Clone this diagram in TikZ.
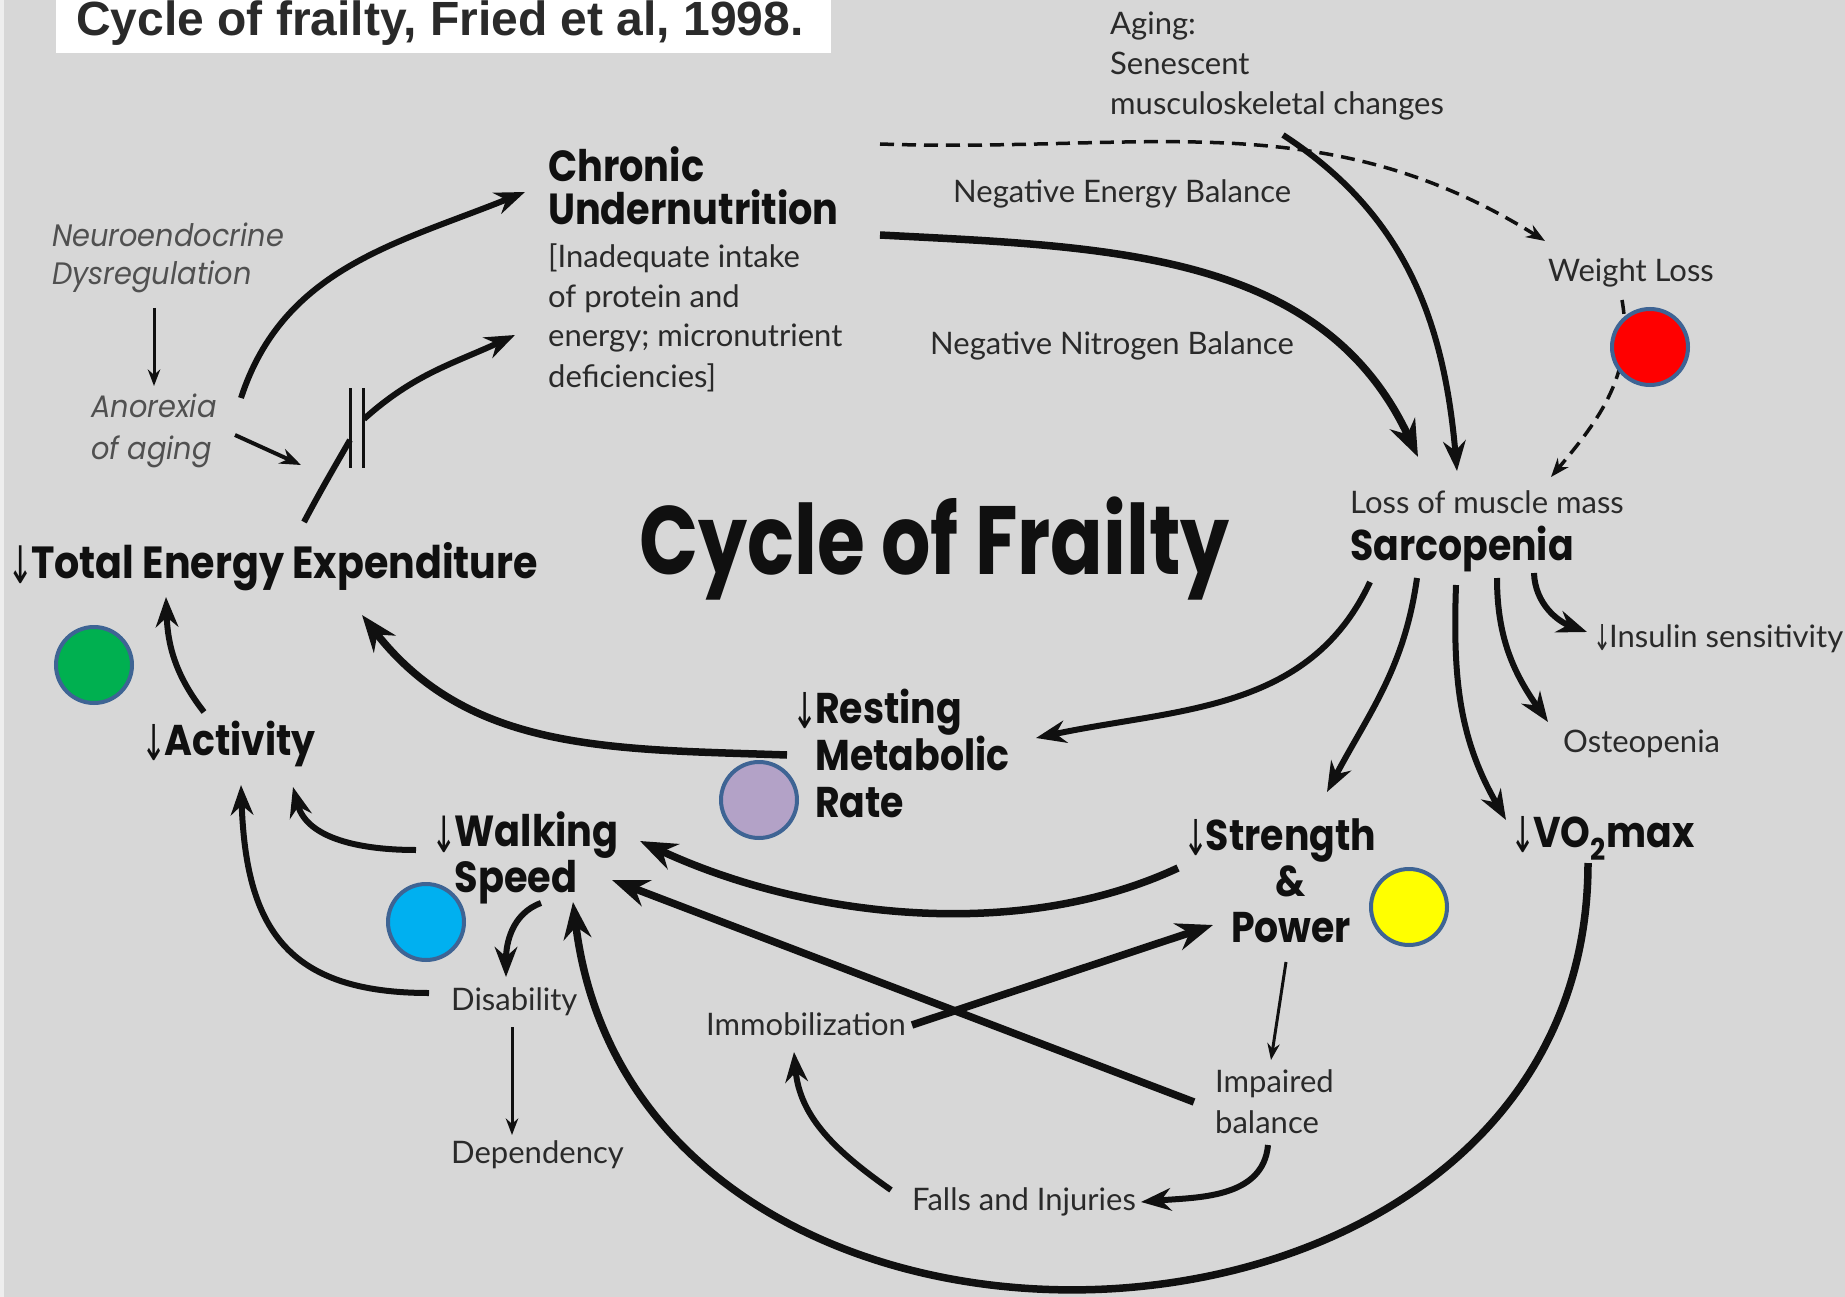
\documentclass[tikz,border=0pt]{standalone}
\usepackage{fontspec}
\usepackage{xcolor}
\usepackage{tikz}
\usetikzlibrary{arrows.meta}

\newfontfamily\heavyfont[FakeStretch=0.88]{Poppins}
\newfontfamily\hugefont[FakeStretch=0.8]{Poppins}
\newfontfamily\plainfont{Lato}
\newfontfamily\obliquefont[FakeStretch=0.93]{Poppins}
\newfontfamily\headerfont{Liberation Sans}
\newfontfamily\arrowfont{DejaVu Sans}
\newcommand{\dn}{\makebox[0.42em][l]{\hspace{-0.1em}\raisebox{-0.12em}{\scalebox{0.7}[1.15]{\arrowfont\mdseries\symbol{"2193}}}}}

\definecolor{panel}{HTML}{D7D7D7}
\definecolor{edgestrip}{HTML}{EEEEEE}
\definecolor{ink}{HTML}{101010}
\definecolor{note}{HTML}{2A2A2A}
\definecolor{slant}{HTML}{505050}
\definecolor{rim}{HTML}{3E6494}
\definecolor{redfill}{HTML}{FF0000}
\definecolor{greenfill}{HTML}{00B050}
\definecolor{lilacfill}{HTML}{B3A2C7}
\definecolor{bluefill}{HTML}{00B0F0}
\definecolor{yellowfill}{HTML}{FFFF00}

\tikzset{
  heavylabel/.style={text=ink, font=\heavyfont\bfseries\fontsize{43}{46}\selectfont},
  notelabel/.style={text=note, font=\plainfont\fontsize{31}{40}\selectfont},
  slantlabel/.style={text=slant, font=\obliquefont\itshape\fontsize{31}{38}\selectfont},
  dot/.style={circle, draw=rim, line width=4pt, minimum size=76pt, inner sep=0pt},
  flow/.style={draw=ink, line width=6pt},
  heavyflow/.style={draw=ink, line width=7.5pt},
  thinflow/.style={draw=ink, line width=3pt},
  dashflow/.style={draw=ink, line width=3.5pt, dash pattern=on 14pt off 8pt},
}

\begin{document}
\begin{tikzpicture}[x=1pt,y=-1pt]
\useasboundingbox (0,0) rectangle (1845,1297);
\fill[panel] (0,0) rectangle (1845,1297);
\fill[edgestrip] (0,0) rectangle (4,1297);
\fill[white] (56,0) rectangle (831,53);

% multi-line labels sit on the baseline of their last line
\begin{scope}[every node/.style={inner sep=0pt, anchor=base west}]
    \node[text=note, font=\headerfont\bfseries\fontsize{48}{50}\selectfont] (title) at (76,36) {Cycle of frailty, Fried et al, 1998.};

    \node[notelabel, align=left] (aging) at (1110,115) {Aging:\\Senescent\\musculoskeletal changes};
    \node[notelabel] (neb) at (953,203) {Negative Energy Balance};
    \node[notelabel] (nnb) at (930,355) {Negative Nitrogen Balance};
    \node[notelabel] (wloss) at (1548,282) {Weight Loss};
    \node[notelabel] (loss) at (1350,513) {Loss of muscle mass};
    \node[heavylabel] (sarc) at (1350,560) {Sarcopenia};

    \node[text=ink, font=\hugefont\bfseries\fontsize{97}{100}\selectfont] (cycle) at (639,574) {Cycle of Frailty};

    \node[heavylabel, font=\heavyfont\bfseries\fontsize{43.5}{43}\selectfont, align=left] (chronic) at (548,225) {Chronic\\Undernutrition};
    \node[notelabel, align=left] (inadeq) at (548,387) {[Inadequate intake\\of protein and\\energy; micronutrient\\deficiencies]};

    \node[slantlabel, align=left] (neuro) at (52,285) {Neuroendocrine\\Dysregulation};
    \node[slantlabel, align=left, font=\obliquefont\itshape\fontsize{31}{42}\selectfont] (anorexia) at (91,459) {Anorexia\\of aging};

    \node[heavylabel, font=\heavyfont\bfseries\fontsize{45}{46}\selectfont] (tee) at (12,578) {\dn Total Energy Expenditure};
    \node[heavylabel] (act) at (146,755) {\dn Activity};
    \node[heavylabel, align=left, font=\heavyfont\bfseries\fontsize{43}{47}\selectfont] (rmr) at (797,817) {\dn Resting\\\phantom{\dn}Metabolic\\\phantom{\dn}Rate};
    \node[heavylabel, align=left, font=\heavyfont\bfseries\fontsize{43.5}{40}\selectfont] (walk) at (436,892) {\dn Walking\\\phantom{\dn}Speed};
    \node[heavylabel, align=center, anchor=base] (strength) at (1291,942) {\llap{\dn}Strength\\\&\\Power};
    \node[heavylabel] (vo2) at (1515,847) {\dn VO\textsubscript{2}max};

    \node[notelabel] (insulin) at (1596,647) {\dn Insulin sensitivity};
    \node[notelabel] (osteo) at (1563,752) {Osteopenia};
    \node[notelabel] (disab) at (451,1010) {Disability};
    \node[notelabel] (depend) at (451,1163) {Dependency};
    \node[notelabel] (immob) at (706,1035) {Immobilization};
    \node[notelabel, align=left, font=\plainfont\fontsize{31}{41}\selectfont] (impair) at (1215,1133) {Impaired\\balance};
    \node[notelabel] (falls) at (912,1210) {Falls and Injuries};
\end{scope}

\coordinate (gap) at (357,428);

\begin{scope}[>={Stealth}]
    % top of the cycle
    \path [->] ([shift={(332,-81)}]chronic.base west) edge[dashflow, out=-2, in=148] ([shift={(-3,-41)}]wloss.base west);
    \path [->] ([shift={(332,10)}]chronic.base west) edge[heavyflow, out=-3, in=115] ([shift={(68,-103)}]sarc.base west);
    \path [->] ([shift={(173,20)}]aging.base west) edge[flow, out=-33, in=95] ([shift={(107,-89)}]sarc.base west);
    \path [->] ([shift={(74,18)}]wloss.base west) edge[dashflow, out=-80, in=50] ([shift={(201,-83)}]sarc.base west);

    % left side
    \path [->] ([shift={(102,23)}]neuro.base west) edge[thinflow] ([shift={(63,-73)}]anorexia.base west);
    \path [->] ([shift={(150,-61)}]anorexia.base west) edge[flow, out=72, in=-158] ([shift={(-23,-33)}]chronic.base west);
    \path [->] ([shift={(144,-24)}]anorexia.base west) edge[thinflow, line width=4pt] ([shift={(-56,37)}]gap);
    \path ([shift={(292,-56)}]tee.base west) edge[flow, out=62, in=-120] ([shift={(-7,12)}]gap);
    \path [->] ([shift={(7,-9)}]gap) edge[flow, out=42, in=-155] ([shift={(-33,110)}]chronic.base west);
    \draw[ink, line width=3pt] ([shift={(-7,-40)}]gap) -- ([shift={(-7,40)}]gap);
    \draw[ink, line width=3pt] ([shift={(6,-40)}]gap) -- ([shift={(6,40)}]gap);
    \path [->] ([shift={(58,-43)}]act.base west) edge[flow, out=128, in=-88] ([shift={(154,19)}]tee.base west);
    \path [->] ([shift={(-10,-62)}]rmr.base west) edge[heavyflow, out=178, in=-52] ([shift={(350,37)}]tee.base west);

    % out of sarcopenia
    \path [->] ([shift={(20,22)}]sarc.base west) edge[flow, out=-115, in=12] ([shift={(239,-79)}]rmr.base west);
    \path [->] ([shift={(67,18)}]sarc.base west) edge[flow, out=-98, in=62] ([shift={(36,-150)}]strength.base);
    \path [->] ([shift={(106,25)}]sarc.base west) edge[flow, out=-92, in=120] ([shift={(-9,-27)}]vo2.base west);
    \path [->] ([shift={(147,18)}]sarc.base west) edge[flow, out=-90, in=125] ([shift={(-15,-30)}]osteo.base west);
    \path [->] ([shift={(184,13)}]sarc.base west) edge[flow, out=-88, in=160] ([shift={(-9,-15)}]insulin.base west);

    % lower part
    \path [->] ([shift={(-20,-42)}]walk.base west) edge[flow, out=180, in=-75] ([shift={(147,32)}]act.base west);
    \path [->] ([shift={(-113,-74)}]strength.base) edge[heavyflow, out=-155, in=-25, looseness=0.85] ([shift={(204,-51)}]walk.base west);
    \path [->] ([shift={(-21,-31)}]impair.base west) edge[heavyflow] ([shift={(176,-12)}]walk.base west);
    \path [->] ([shift={(206,-10)}]immob.base west) edge[heavyflow] ([shift={(-78,-17)}]strength.base);
    \path [->] ([shift={(105,11)}]walk.base west) edge[flow, out=-160, in=90] ([shift={(55,-33)}]disab.base west);
    \path [->] ([shift={(-22,-17)}]disab.base west) edge[flow, out=180, in=-88, looseness=1.3] ([shift={(95,30)}]act.base west);
    \path [->] ([shift={(61,17)}]disab.base west) edge[thinflow] ([shift={(61,-28)}]depend.base west);
    \path [->] ([shift={(-5,20)}]strength.base) edge[thinflow] ([shift={(56,-73)}]impair.base west);
    \path [->] ([shift={(53,12)}]impair.base west) edge[flow, out=-95, in=5] ([shift={(229,-8)}]falls.base west);
    \path [->] ([shift={(-21,-20)}]falls.base west) edge[flow, out=145, in=-85] ([shift={(88,17)}]immob.base west);
    \path [->] ([shift={(73,16)}]vo2.base west) edge[heavyflow, out=-90, in=-83, looseness=1.36] ([shift={(137,10)}]walk.base west);
\end{scope}

\begin{scope}[every node/.style={dot}]
    \node[fill=redfill] (wloss-dot) at (1650,347) {};
    \node[fill=greenfill] (tee-dot) at (94,665) {};
    \node[fill=lilacfill] (rmr-dot) at (759,800) {};
    \node[fill=bluefill] (walk-dot) at (426,922) {};
    \node[fill=yellowfill] (strength-dot) at (1409,907) {};
\end{scope}
\end{tikzpicture}
\end{document}
